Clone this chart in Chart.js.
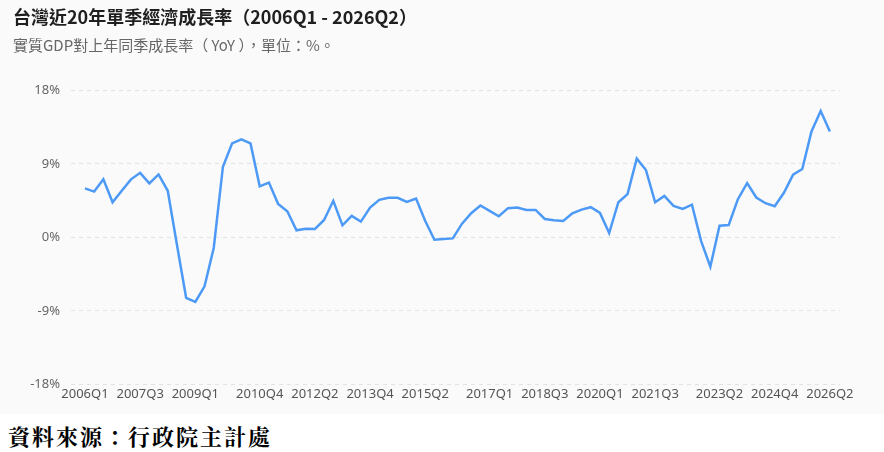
<!DOCTYPE html>
<html>
<head>
<meta charset="utf-8">
<script src="https://cdn.jsdelivr.net/npm/chart.js@4"></script>
<style>
  html, body { margin: 0; padding: 0; background: #ffffff; }
  #wrap { width: 884px; height: 414px; background: #fafafa; }
  #source {
    width: 884px; height: 38px; line-height: 44px;
    padding-left: 8px; box-sizing: border-box;
    font-family: "AR PL UKai TW", "Noto Serif CJK TC", "Noto Sans CJK TC", serif;
    font-weight: bold; font-size: 22px; letter-spacing: 2px; color: #000;
  }
</style>
</head>
<body>
<div id="wrap"><canvas id="c" width="884" height="414"></canvas></div>
<div id="source">資料來源：行政院主計處</div>
<script>
const quarters = [
  '2006Q1','2006Q2','2006Q3','2006Q4','2007Q1','2007Q2','2007Q3','2007Q4',
  '2008Q1','2008Q2','2008Q3','2008Q4','2009Q1','2009Q2','2009Q3','2009Q4',
  '2010Q1','2010Q2','2010Q3','2010Q4','2011Q1','2011Q2','2011Q3','2011Q4',
  '2012Q1','2012Q2','2012Q3','2012Q4','2013Q1','2013Q2','2013Q3','2013Q4',
  '2014Q1','2014Q2','2014Q3','2014Q4','2015Q1','2015Q2','2015Q3','2015Q4',
  '2016Q1','2016Q2','2016Q3','2016Q4','2017Q1','2017Q2','2017Q3','2017Q4',
  '2018Q1','2018Q2','2018Q3','2018Q4','2019Q1','2019Q2','2019Q3','2019Q4',
  '2020Q1','2020Q2','2020Q3','2020Q4','2021Q1','2021Q2','2021Q3','2021Q4',
  '2022Q1','2022Q2','2022Q3','2022Q4','2023Q1','2023Q2','2023Q3','2023Q4',
  '2024Q1','2024Q2','2024Q3','2024Q4','2025Q1','2025Q2','2025Q3','2025Q4',
  '2026Q1','2026Q2'
];
const gdpGrowth = [
  6.0, 5.6, 7.1, 4.3, 5.7, 7.1, 7.9, 6.6, 7.7, 5.7,
  -0.9, -7.4, -7.9, -6.0, -1.3, 8.65, 11.5, 12.0, 11.5, 6.25,
  6.7, 4.1, 3.2, 0.86, 1.06, 1.02, 2.13, 4.47, 1.47, 2.62,
  1.92, 3.65, 4.59, 4.84, 4.84, 4.35, 4.75, 2.0, -0.29, -0.2,
  -0.13, 1.68, 2.95, 3.9, 3.24, 2.58, 3.57, 3.65, 3.36, 3.36,
  2.25, 2.09, 2.0, 2.95, 3.4, 3.69, 2.99, 0.53, 4.3, 5.29,
  9.64, 8.24, 4.3, 5.08, 3.85, 3.48, 4.0, -0.46, -3.6, 1.43,
  1.51, 4.67, 6.64, 4.88, 4.18, 3.81, 5.45, 7.67, 8.37, 12.96,
  15.46, 12.96
];
const shownTickLabels = ['2006Q1','2007Q3','2009Q1','2010Q4','2012Q2','2013Q4','2015Q2',
  '2017Q1','2018Q3','2020Q1','2021Q3','2023Q2','2024Q4','2026Q2'];
const yTicks = [-18, -9, 0, 9, 18];

const titleText = '台灣近20年單季經濟成長率（2006Q1 - 2026Q2）';
const subtitleText = '實質GDP對上年同季成長率（ YoY ），單位：%。';

const points = gdpGrowth.map((v, i) => ({ x: i, y: v }));
const tickIdx = shownTickLabels.map(l => quarters.indexOf(l));

const FONT = '"Noto Sans CJK TC", "Noto Sans", sans-serif';
const TICKFONT = '"Noto Sans", "Open Sans", sans-serif';

new Chart(document.getElementById('c'), {
  type: 'line',
  data: {
    datasets: [{
      data: points,
      borderColor: '#4d9af6',
      borderWidth: 2.5,
      pointRadius: 0,
      tension: 0,
      fill: false
    }]
  },
  options: {
    responsive: false,
    animation: false,
    layout: { padding: { left: 13, right: 44, top: 0, bottom: 10 } },
    plugins: {
      legend: { display: false },
      tooltip: { enabled: false },
      title: {
        display: true, text: titleText, align: 'start', color: '#1f1f1f',
        font: { family: FONT, size: 18, weight: 'bold' },
        padding: { top: 6, bottom: 9 }
      },
      subtitle: {
        display: true, text: subtitleText, align: 'start', color: '#666666',
        font: { family: FONT, size: 15, weight: 'normal' },
        padding: { top: 0, bottom: 35.7 }
      }
    },
    scales: {
      x: {
        type: 'linear',
        min: -1.52, max: 82.1,
        grid: { display: false, drawTicks: false },
        border: { display: false },
        afterBuildTicks: (scale) => { scale.ticks = tickIdx.map(v => ({ value: v })); },
        ticks: {
          autoSkip: false, maxRotation: 0, padding: 2, color: '#555555',
          font: { family: TICKFONT, size: 13 },
          callback: (v) => quarters[v]
        }
      },
      y: {
        min: -18, max: 18,
        afterBuildTicks: (scale) => { scale.ticks = yTicks.map(v => ({ value: v })); },
        afterFit: (scale) => { scale.width = 58; },
        grid: { color: '#e3e3e3', lineWidth: 1, drawTicks: false },
        border: { display: false, dash: [4, 4] },
        ticks: {
          padding: 11, color: '#666666',
          font: { family: TICKFONT, size: 13 },
          callback: (v) => v + '%'
        }
      }
    }
  }
});
</script>
</body>
</html>
